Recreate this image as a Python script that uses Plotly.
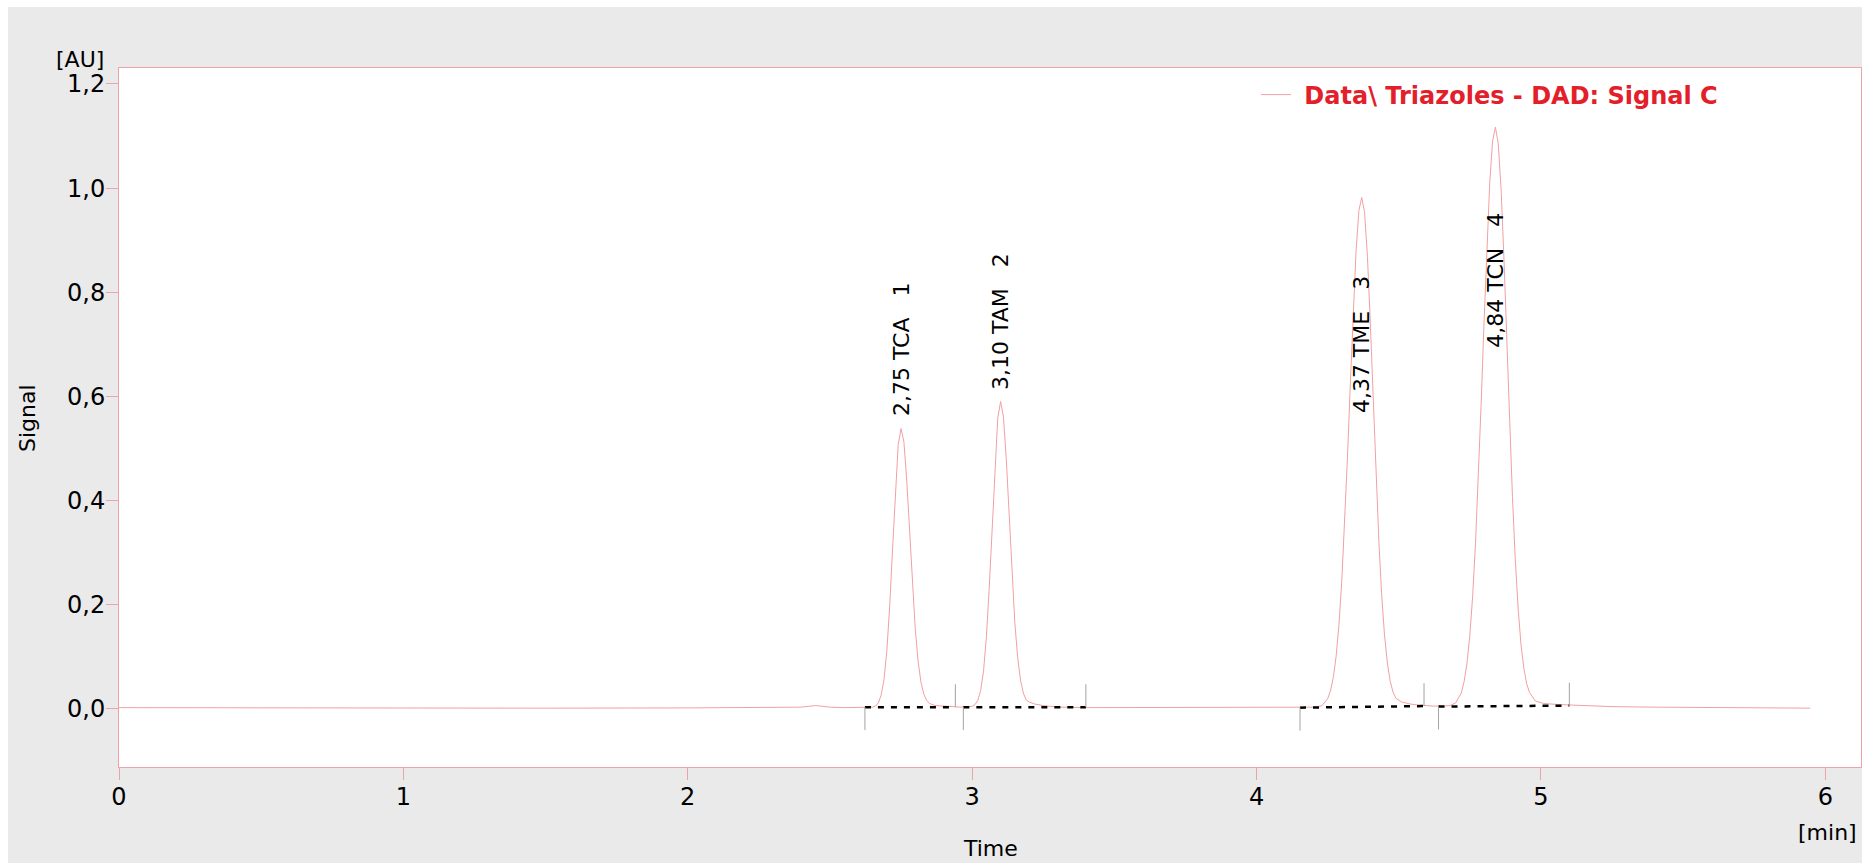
import plotly.graph_objects as go

# ---- chromatogram trace (retention time in min, absorbance in AU) ----
time_min = [
    0.00, 0.50, 1.00, 1.50, 2.00, 2.30, 2.40, 2.45, 2.50, 2.55, 2.60,
    # TCA
    2.65, 2.66, 2.67, 2.68, 2.69, 2.70, 2.71, 2.72, 2.73, 2.74, 2.75,
    2.76, 2.77, 2.78, 2.79, 2.80, 2.81, 2.82, 2.83, 2.84, 2.85, 2.87,
    2.90, 2.93, 2.96,
    # TAM
    3.00, 3.01, 3.02, 3.03, 3.04, 3.05, 3.06, 3.07, 3.08, 3.09, 3.10,
    3.11, 3.12, 3.13, 3.14, 3.15, 3.16, 3.17, 3.18, 3.19, 3.20, 3.22,
    3.25, 3.30, 3.40, 3.50, 3.60, 3.70, 3.80, 3.90, 4.00, 4.10,
    # TME
    4.21, 4.23, 4.25, 4.26, 4.27, 4.28, 4.29, 4.30, 4.31, 4.32, 4.33,
    4.34, 4.35, 4.36, 4.37, 4.38, 4.39, 4.40, 4.41, 4.42, 4.43, 4.44,
    4.45, 4.46, 4.47, 4.48, 4.49, 4.51, 4.54, 4.57, 4.60,
    # TCN
    4.62, 4.66, 4.68, 4.70, 4.72, 4.73, 4.74, 4.75, 4.76, 4.77, 4.78,
    4.79, 4.80, 4.81, 4.82, 4.83, 4.84, 4.85, 4.86, 4.87, 4.88, 4.89,
    4.90, 4.91, 4.92, 4.93, 4.94, 4.95, 4.96, 4.98, 5.01, 5.06, 5.10,
    5.15, 5.25, 5.40, 5.60, 5.80, 5.947,
]
signal_au = [
    0.002, 0.0015, 0.001, 0.001, 0.0015, 0.002, 0.003, 0.006, 0.003, 0.002, 0.002,
    0.003, 0.005, 0.011, 0.026, 0.056, 0.111, 0.196, 0.305, 0.419, 0.507, 0.538,
    0.513, 0.439, 0.339, 0.236, 0.153, 0.091, 0.051, 0.028, 0.016, 0.010, 0.006,
    0.005, 0.004, 0.003,
    0.0045, 0.008, 0.016, 0.035, 0.072, 0.137, 0.231, 0.349, 0.468, 0.558, 0.590,
    0.561, 0.480, 0.371, 0.259, 0.166, 0.099, 0.055, 0.030, 0.017, 0.013, 0.009,
    0.006, 0.003, 0.002, 0.002, 0.003, 0.002, 0.003, 0.002, 0.002, 0.002,
    0.003, 0.006, 0.019, 0.034, 0.060, 0.101, 0.162, 0.247, 0.356, 0.485, 0.626,
    0.763, 0.879, 0.957, 0.982, 0.953, 0.869, 0.743, 0.598, 0.452, 0.324, 0.219,
    0.142, 0.088, 0.053, 0.032, 0.020, 0.013, 0.009, 0.007, 0.005,
    0.005, 0.005, 0.006, 0.011, 0.030, 0.052, 0.087, 0.140, 0.216, 0.317, 0.443,
    0.587, 0.741, 0.887, 1.009, 1.090, 1.117, 1.086, 0.998, 0.866, 0.710, 0.551,
    0.406, 0.286, 0.192, 0.123, 0.078, 0.048, 0.031, 0.015, 0.010, 0.008, 0.007,
    0.006, 0.004, 0.003, 0.002, 0.001, 0.001,
]

# ---- integrated peaks ----
peak_number = [1, 2, 3, 4]
peak_name = ["TCA", "TAM", "TME", "TCN"]
peak_rt = [2.75, 3.10, 4.37, 4.84]
label_base = [0.568, 0.618, 0.574, 0.699]   # where each rotated label starts
peak_start = [2.623, 2.969, 4.153, 4.640]
peak_end = [2.941, 3.400, 4.589, 5.100]
base_start_au = [0.003, 0.003, 0.002, 0.004]
base_end_au = [0.003, 0.003, 0.005, 0.006]

x_ticks = [0, 1, 2, 3, 4, 5, 6]
y_ticks = [0.0, 0.2, 0.4, 0.6, 0.8, 1.0, 1.2]

# ---- style ----
AXIS_PINK = "#eda3aa"
TRACE_PINK = "#f2a0a0"
LEGEND_RED = "#e3202a"
PANEL_GREY = "#eaeaea"
MARK_GREY = "#a3a3a3"
FONT = "DejaVu Sans"
MARK_UP = 0.044     # height of the peak-end tick, AU
MARK_DOWN = 0.044   # depth of the peak-start tick, AU

fig = go.Figure()

fig.add_trace(go.Scatter(
    x=time_min, y=signal_au, mode="lines",
    name="\u00a0Data\\ Triazoles - DAD: Signal C",
    line=dict(color=TRACE_PINK, width=1),
    hoverinfo="skip",
))

# integration baselines (dashed black)
bx, by = [], []
for s, e, ys, ye in zip(peak_start, peak_end, base_start_au, base_end_au):
    bx += [s, e, None]
    by += [ys, ye, None]
fig.add_trace(go.Scatter(
    x=bx, y=by, mode="lines", showlegend=False, hoverinfo="skip",
    line=dict(color="black", width=2.5, dash="6px,7px"),
))

# peak start / end ticks
mx, my = [], []
for s, e, ys, ye in zip(peak_start, peak_end, base_start_au, base_end_au):
    mx += [s, s, None, e, e, None]
    my += [ys, ys - MARK_DOWN, None, ye, ye + MARK_UP, None]
fig.add_trace(go.Scatter(
    x=mx, y=my, mode="lines", showlegend=False, hoverinfo="skip",
    line=dict(color=MARK_GREY, width=1),
))

annotations = []
for n, name, rt, yb in zip(peak_number, peak_name, peak_rt, label_base):
    rt_txt = f"{rt:.2f}".replace(".", ",")
    annotations.append(dict(
        x=rt, y=yb, xref="x", yref="y", yshift=-5,
        text=f"{rt_txt} {name}\u00a0\u00a0\u00a0{n}",
        textangle=-90, showarrow=False,
        xanchor="center", yanchor="bottom",
        font=dict(family=FONT, size=22, color="black"),
    ))

PW = 1862 - 119 - 1
PH = 863 - 68 - 96
annotations += [
    dict(text="[AU]", xref="paper", yref="paper", x=(106 - 119) / PW, y=(767 - 60) / PH,
         xanchor="right", yanchor="middle", showarrow=False,
         font=dict(family=FONT, size=22, color="black")),
    dict(text="[min]", xref="paper", yref="paper", x=(1859 - 119) / PW, y=(767 - 832) / PH,
         xanchor="right", yanchor="middle", showarrow=False,
         font=dict(family=FONT, size=22, color="black")),
    dict(text="Time", xref="paper", yref="paper", x=0.5, y=(767 - 863) / PH,
         xanchor="center", yanchor="bottom", showarrow=False,
         font=dict(family=FONT, size=22, color="black")),
    dict(text="Signal", xref="paper", yref="paper", x=(28 - 119) / PW, y=0.4993,
         xanchor="center", yanchor="middle", showarrow=False, textangle=-90,
         font=dict(family=FONT, size=22, color="black")),
]

shapes = [
    # white page edge along the top and left of the grey panel
    dict(type="rect", xref="paper", yref="paper", xsizemode="pixel", xanchor=0,
         x0=-119, x1=-111, y0=-1, y1=2, fillcolor="white", line=dict(width=0),
         layer="above"),
    dict(type="rect", xref="paper", yref="paper", ysizemode="pixel", yanchor=1,
         y0=61, y1=70, x0=-1, x1=2, fillcolor="white", line=dict(width=0),
         layer="below"),
]

axis_common = dict(
    showline=True, linecolor=AXIS_PINK, linewidth=1, mirror=True,
    ticks="outside", ticklen=12, tickcolor=AXIS_PINK, tickwidth=1,
    showgrid=False, zeroline=False,
    tickfont=dict(family=FONT, size=24, color="black"),
)

fig.update_layout(
    width=1862, height=863,
    margin=dict(l=119, r=1, t=68, b=96),
    paper_bgcolor=PANEL_GREY, plot_bgcolor="white",
    separators=", ",
    font=dict(family=FONT, size=22, color="black"),
    xaxis=dict(range=[0, 6.1256], tickvals=x_ticks,
               ticktext=[str(v) for v in x_ticks], ticklabelstandoff=-4,
               **axis_common),
    yaxis=dict(range=[-0.112, 1.2307], tickvals=y_ticks, tickformat=".1f",
               ticklabelstandoff=-4, **axis_common),
    showlegend=True,
    legend=dict(x=(1256 - 119) / PW, xanchor="left", y=(767 - 95) / PH,
                yanchor="middle", bgcolor="rgba(0,0,0,0)", borderwidth=0,
                itemwidth=30,
                font=dict(family="DejaVu Sans", size=24, color=LEGEND_RED,
                          weight="bold")),
    annotations=annotations,
    shapes=shapes,
    hovermode=False,
)

fig.write_html("out.html")
